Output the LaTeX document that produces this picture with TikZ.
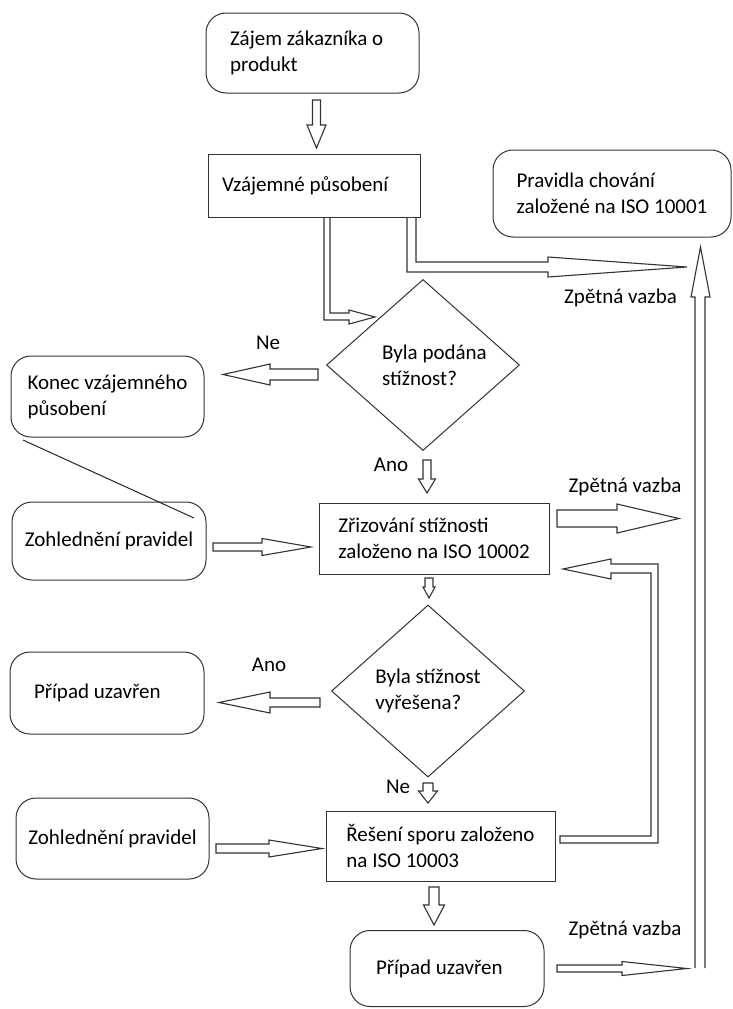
\documentclass[tikz,border=0pt]{standalone}
\usepackage{fontspec}
\setmainfont{Carlito}
\usetikzlibrary{shapes.geometric}
\newcommand\blockH[6]{% tail x, head base x, tip x, centre y, shaft half width, head half width
  \draw[barrow] (#1,#4-#5) -- (#2,#4-#5) -- (#2,#4-#6) -- (#3,#4) -- (#2,#4+#6) -- (#2,#4+#5) -- (#1,#4+#5) -- cycle;}
\newcommand\blockV[6]{% tail y, head base y, tip y, centre x, shaft half width, head half width
  \draw[barrow] (#4-#5,#1) -- (#4-#5,#2) -- (#4-#6,#2) -- (#4,#3) -- (#4+#6,#2) -- (#4+#5,#2) -- (#4+#5,#1) -- cycle;}
\begin{document}
\begin{tikzpicture}[x=1pt,y=-1pt,
  every node/.style={font=\fontsize{21}{26}\selectfont, text=black},
  rbox/.style={draw=black!80, line width=1pt, rounded corners=20pt, align=flush left, inner sep=0pt},
  sbox/.style={draw=black!80, line width=1pt, align=flush left, inner sep=0pt},
  dbox/.style={draw=black!80, line width=1pt, diamond, shape aspect=1.13, align=flush left, inner sep=0pt},
  barrow/.style={draw=black!80, line width=1.1pt, fill=white, line join=miter},
  plainline/.style={draw=black!85, line width=1pt},
  lbl/.style={inner sep=0pt}
]
\fill[white] (0,0) rectangle (732,1009);
\useasboundingbox (0,0) rectangle (732,1009);

% boxes
\node[rbox, minimum width=213pt, minimum height=80pt, text width=165pt] (zajem) at (312.5,53) {Zájem zákazníka o\\produkt};
\node[sbox, minimum width=212pt, minimum height=63pt, text width=184pt] (vzaj) at (314,185.5) {Vzájemné působení};
\node[rbox, minimum width=238pt, minimum height=87pt] (pravidla) at (612,193.5) {Pravidla chování\\založené na ISO 10001};
\node[dbox, minimum width=193pt, minimum height=171pt] (d1) at (423,365) {\hspace*{23pt}Byla podána\\\hspace*{23pt}stížnost?};
\node[rbox, minimum width=193pt, minimum height=81pt] (konec) at (107.5,396.5) {Konec vzájemného\\působení};
\node[rbox, minimum width=194pt, minimum height=78pt] (zohl1) at (109,541) {Zohlednění pravidel};
\node[sbox, minimum width=230pt, minimum height=71pt] (zriz) at (434,538.5) {Zřizování stížnosti\\založeno na ISO 10002};
\node[dbox, minimum width=193pt, minimum height=172pt] (d2) at (428,691) {Byla stížnost\\vyřešena?};
\node[rbox, minimum width=194pt, minimum height=82pt, text width=146pt] (pripad1) at (107,693) {Případ uzavřen};
\node[rbox, minimum width=193pt, minimum height=81pt] (zohl2) at (112.5,838.5) {Zohlednění pravidel};
\node[sbox, minimum width=229pt, minimum height=70pt] (reseni) at (440.5,846) {Řešení sporu založeno\\na ISO 10003};
\node[rbox, minimum width=194pt, minimum height=76pt, text width=142pt] (pripad2) at (447,968.5) {Případ uzavřen};

% labels
\node[lbl] (ne1) at (268,343) {Ne};
\node[lbl] (ano1) at (391,465) {Ano};
\node[lbl] (zv1) at (620.5,298) {Zpětná vazba};
\node[lbl] (zv2) at (625,487) {Zpětná vazba};
\node[lbl] (ano2) at (269,665) {Ano};
\node[lbl] (ne2) at (398,787) {Ne};
\node[lbl] (zv3) at (625,930) {Zpětná vazba};

% block arrows
\blockV{100}{125}{148}{316.5}{4}{9.5}
\draw[barrow] (324,218) -- (324,320) -- (349,320) -- (349,324) -- (375,317) -- (349,310) -- (349,313) -- (330,313) -- (330,218);
\draw[barrow] (407,218) -- (407,272) -- (548,272) -- (548,277) -- (687,267) -- (548,257) -- (548,262) -- (416,262) -- (416,218);
\blockH{318}{270}{223}{374.5}{5.5}{10.5}
\blockV{460}{479}{493}{427}{4}{8.5}
\blockH{213}{262}{311}{547}{4}{8.5}
\blockH{557}{617}{679}{518.5}{8.5}{14.5}
\draw[barrow] (560,836) -- (651,836) -- (651,573) -- (611,573) -- (611,579) -- (563,569) -- (611,559) -- (611,564) -- (658,564) -- (658,843) -- (560,843) -- cycle;
\blockV{578}{587}{598}{429}{4}{6}
\blockH{320}{270}{219}{702.5}{4.5}{10.5}
\blockV{783}{791}{803}{428}{5}{9.5}
\blockH{216}{269}{322}{848.5}{4.5}{8.5}
\blockV{887}{905}{925}{434}{5}{10.5}
\blockH{557}{622}{687}{968.5}{3.5}{7}
\draw[barrow] (695,968) -- (695,297) -- (691,297) -- (700.5,247) -- (710,297) -- (705,297) -- (705,968);

% diagonal line
\coordinate (diagA) at (23,440);
\coordinate (diagB) at (194,518);
\draw[plainline] (diagA) -- (diagB);
\end{tikzpicture}
\end{document}
